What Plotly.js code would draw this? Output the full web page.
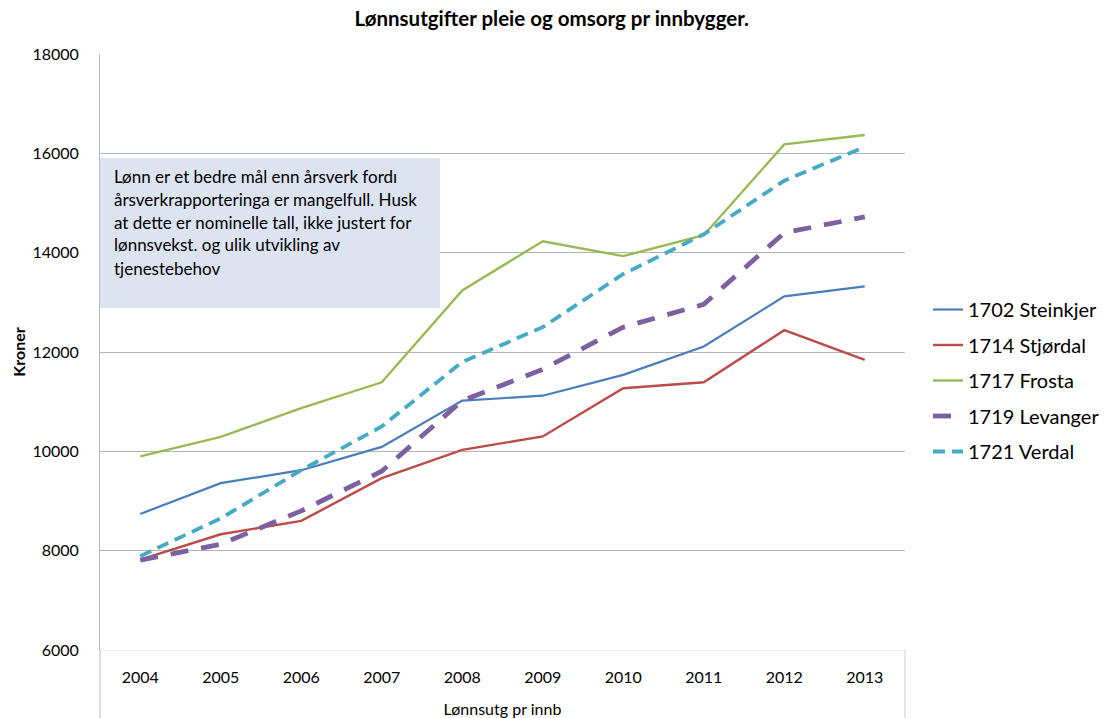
<!DOCTYPE html>
<html>
<head>
<meta charset="utf-8">
<script src="https://cdn.plot.ly/plotly-3.0.1.min.js"></script>
<style>html,body{margin:0;padding:0;background:#fff;}#chart{width:1108px;height:718px;}</style>
</head>
<body>
<div id="chart"></div>
<script>
const years = ["2004","2005","2006","2007","2008","2009","2010","2011","2012","2013"];
const steinkjer = [8740, 9360, 9620, 10090, 11020, 11120, 11540, 12110, 13120, 13320];
const stjordal  = [7820, 8330, 8600, 9460, 10030, 10300, 11270, 11390, 12440, 11840];
const frosta    = [9900, 10290, 10870, 11390, 13240, 14230, 13930, 14350, 16180, 16370];
const levanger  = [7810, 8130, 8800, 9600, 11020, 11650, 12500, 12960, 14400, 14720];
const verdal    = [7890, 8650, 9620, 10500, 11800, 12500, 13570, 14370, 15450, 16130];
const seriesNames = ["1702 Steinkjer", "1714 Stjørdal", "1717 Frosta", "1719 Levanger", "1721 Verdal"];
const yTicks = [6000, 8000, 10000, 12000, 14000, 16000, 18000];
const noteLines = [
  "Lønn er et bedre mål enn årsverk fordı",
  "årsverkrapporteringa er mangelfull. Husk",
  "at dette er nominelle tall, ikke justert for",
  "lønnsvekst. og ulik utvikling av",
  "tjenestebehov"
];

const FONT = "Lato, 'Open Sans', sans-serif";
const styles = [
  {color:"#4a7ebb", width:2.2, dash:"solid"},
  {color:"#be4b48", width:2.4, dash:"solid"},
  {color:"#98b954", width:2.4, dash:"solid"},
  {color:"#7d60a0", width:4.8, dash:"18px,13px"},
  {color:"#46aac5", width:3.8, dash:"12px,7px"}
];
const vals = [steinkjer, stjordal, frosta, levanger, verdal];
const traces = vals.map((v,i)=>({
  type:"scatter", mode:"lines", x:years, y:v, name:seriesNames[i],
  legendgroup:"g"+i,
  line:{color:styles[i].color, width:styles[i].width, dash:styles[i].dash}
}));

// plot area in pixels: x 100..905, y 54..650
const H = 596;
const annotations = noteLines.map((t,i)=>({
  xref:"paper", yref:"paper", x:(112-100)/805, y:(650-(176+i*23))/H,
  xanchor:"left", yanchor:"middle", showarrow:false, text:t,
  font:{family:FONT, size:17, color:"#000"}
}));

const layout = {
  width:1108, height:718,
  margin:{l:100, r:203, t:54, b:68},
  paper_bgcolor:"#fff", plot_bgcolor:"#fff",
  font:{family:FONT, color:"#000"},
  title:{text:"<b>Lønnsutgifter pleie og omsorg pr innbygger.</b>", font:{family:FONT, size:20.5, color:"#000"}, x:0.498, xanchor:"center", y:0.974, yanchor:"middle"},
  xaxis:{
    type:"category", range:[-0.5, 9.5], showgrid:false, zeroline:false,
    showline:true, linecolor:"#ececec", linewidth:1, ticks:"", ticklabelstandoff:13,
    tickfont:{family:FONT, size:16, color:"#000"},
    title:{text:"Lønnsutg pr innb", font:{family:FONT, size:16, color:"#000"}, standoff:18}
  },
  yaxis:{
    range:[6000, 18000], tickvals:yTicks, ticktext:yTicks.map(String),
    showgrid:true, gridcolor:"#b4b4b4", gridwidth:1, zeroline:false,
    showline:true, linecolor:"#bcbcbc", linewidth:1, ticks:"", ticklabelstandoff:17,
    tickfont:{family:FONT, size:16, color:"#000"},
    title:{text:"<b>Kroner</b>", font:{family:FONT, size:16, color:"#000"}, standoff:2}
  },
  legend:{xref:"container", yref:"container", x:928/1108, xanchor:"left", y:1-290/718, yanchor:"top",
    font:{family:FONT, size:20, color:"#000"}, tracegroupgap:6.5, bgcolor:"rgba(0,0,0,0)"},
  shapes:[
    {type:"rect", xref:"paper", yref:"paper", x0:0, x1:(440-100)/805, y0:(650-308)/H, y1:(650-158)/H,
     fillcolor:"#dce3f1", line:{width:0}, layer:"above"},
    {type:"line", xref:"paper", yref:"paper", x0:0, x1:0, y0:0, y1:-68/H, line:{color:"#bcbcbc", width:1}},
    {type:"line", xref:"paper", yref:"paper", x0:1, x1:1, y0:0, y1:-68/H, line:{color:"#d0d0d0", width:1}}
  ],
  annotations:annotations,
  showlegend:true
};
Plotly.newPlot("chart", traces, layout, {displayModeBar:false, staticPlot:true});
</script>
</body>
</html>
